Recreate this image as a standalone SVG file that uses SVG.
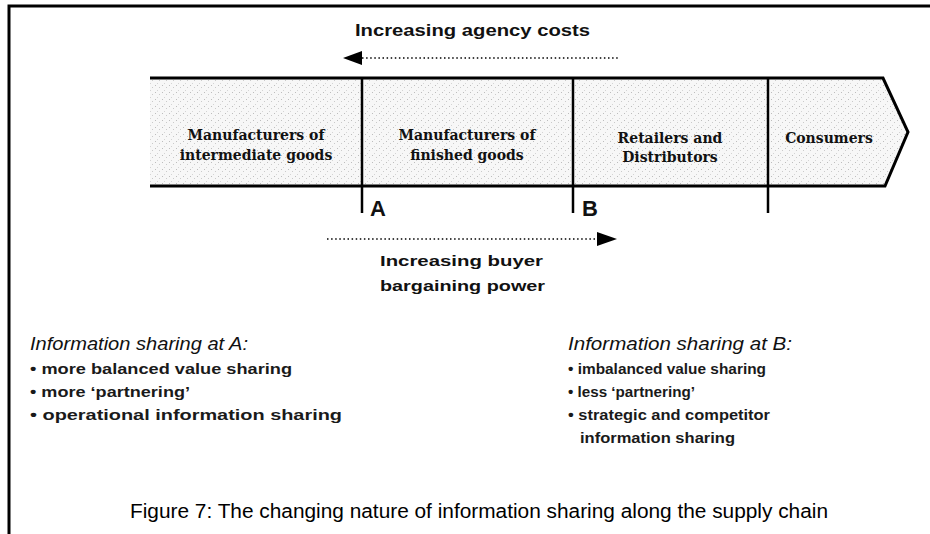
<svg xmlns="http://www.w3.org/2000/svg" width="930" height="534" viewBox="0 0 930 534">
  <defs>
    <pattern id="stipple" width="7" height="7" patternUnits="userSpaceOnUse">
      <rect width="7" height="7" fill="#f7f7f7"/>
      <rect x="1" y="1" width="1" height="1" fill="#bdbdbd"/>
      <rect x="5" y="3" width="1" height="1" fill="#cacaca"/>
      <rect x="3" y="6" width="1" height="1" fill="#d4d4d4"/>
    </pattern>
    <style>
      .frame { stroke: #000; stroke-width: 3; fill: none; }
      .rule { stroke: #000; stroke-width: 2.5; fill: none; }
      .dots { stroke: #000; stroke-width: 1.6; stroke-dasharray: 1.5 2.6; fill: none; }
      .head { fill: #000; }
      .stage { font-family: "Century Schoolbook L", "DejaVu Serif", "Liberation Serif", serif; font-weight: bold; font-size: 14px; fill: #111; text-anchor: middle; }
      .lbl { font-family: "Liberation Sans", Arial, sans-serif; font-weight: bold; fill: #111; }
      .ital { font-family: "Liberation Sans", Arial, sans-serif; font-style: italic; font-size: 19px; fill: #111; }
      .item { font-family: "Liberation Sans", Arial, sans-serif; font-weight: bold; font-size: 15px; fill: #1a1a1a; }
      .cap { font-family: "Liberation Sans", Arial, sans-serif; font-size: 20px; fill: #000; }
    </style>
  </defs>

  <!-- page border (top and left edges) -->
  <path class="frame" d="M9,534 V6 H930"/>

  <!-- supply chain band -->
  <g id="band">
    <path d="M150,78 H883 L908,132 L885,186 H150 Z" fill="url(#stipple)" stroke="none"/>
    <path class="frame" d="M150,78 H883 L908,132 L885,186 H150"/>
  </g>

  <g id="stage-intermediate">
    <text class="stage" x="256" y="140">Manufacturers of</text>
    <text class="stage" x="256" y="160">intermediate goods</text>
  </g>
  <g id="stage-finished">
    <text class="stage" x="467" y="140">Manufacturers of</text>
    <text class="stage" x="467" y="160">finished goods</text>
  </g>
  <g id="stage-retail">
    <text class="stage" x="670" y="143">Retailers and</text>
    <text class="stage" x="670" y="162">Distributors</text>
  </g>
  <g id="stage-consumers">
    <text class="stage" x="829" y="143">Consumers</text>
  </g>

  <!-- stage boundaries and interface markers -->
  <g id="connectors">
    <line class="rule" x1="362" y1="78" x2="362" y2="213"/>
    <line class="rule" x1="573" y1="78" x2="573" y2="213"/>
    <line class="rule" x1="768" y1="78" x2="768" y2="213"/>

    <!-- agency costs: right to left -->
    <line class="dots" x1="362" y1="58" x2="620" y2="58"/>
    <polygon class="head" points="343,58 362,51 362,65"/>

    <!-- buyer bargaining power: left to right -->
    <line class="dots" x1="327" y1="239" x2="598" y2="239"/>
    <polygon class="head" points="617,239 597,232 597,246"/>
  </g>

  <g id="point-a"><text class="lbl" x="370" y="216" font-size="22">A</text></g>
  <g id="point-b"><text class="lbl" x="582" y="216" font-size="22">B</text></g>

  <text class="lbl" x="355" y="36" font-size="16" textLength="235" lengthAdjust="spacingAndGlyphs">Increasing agency costs</text>
  <text class="lbl" x="380" y="266" font-size="15" textLength="163" lengthAdjust="spacingAndGlyphs">Increasing buyer</text>
  <text class="lbl" x="380" y="291" font-size="15" textLength="165" lengthAdjust="spacingAndGlyphs">bargaining power</text>

  <g id="notes-a">
    <text class="ital" x="30" y="350" textLength="218" lengthAdjust="spacingAndGlyphs">Information sharing at A:</text>
    <text class="item" x="30" y="374" textLength="262" lengthAdjust="spacingAndGlyphs">• more balanced value sharing</text>
    <text class="item" x="30" y="397" textLength="160" lengthAdjust="spacingAndGlyphs">• more ‘partnering’</text>
    <text class="item" x="30" y="420" textLength="312" lengthAdjust="spacingAndGlyphs">• operational information sharing</text>
  </g>

  <g id="notes-b">
    <text class="ital" x="568" y="350" textLength="224" lengthAdjust="spacingAndGlyphs">Information sharing at B:</text>
    <text class="item" x="568" y="374" textLength="198" lengthAdjust="spacingAndGlyphs">• imbalanced value sharing</text>
    <text class="item" x="568" y="397" textLength="127" lengthAdjust="spacingAndGlyphs">• less ‘partnering’</text>
    <text class="item" x="568" y="420" textLength="202" lengthAdjust="spacingAndGlyphs">• strategic and competitor</text>
    <text class="item" x="580" y="443" textLength="155" lengthAdjust="spacingAndGlyphs">information sharing</text>
  </g>

  <text class="cap" x="130" y="518" textLength="698" lengthAdjust="spacingAndGlyphs">Figure 7: The changing nature of information sharing along the supply chain</text>
</svg>
